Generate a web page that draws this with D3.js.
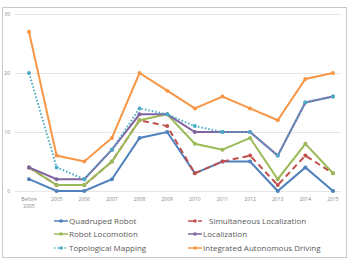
<!DOCTYPE html>
<html>
<head>
<meta charset="utf-8">
<script src="https://cdn.jsdelivr.net/npm/d3@7"></script>
<style>
  body { margin: 0; background: #fff; }
  text { font-family: "Open Sans", "Liberation Sans", sans-serif; }
</style>
</head>
<body>
<script>
const years = ['Before 2005', '2005', '2006', '2007', '2008', '2009', '2010', '2011', '2012', '2013', '2014', '2015']
const quadruped = [2, 0, 0, 2, 9, 10, 3, 5, 5, 0, 4, 0]
const slam = [4, 1, 1, 5, 12, 11, 3, 5, 6, 1, 6, 3]
const locomotion = [4, 1, 1, 5, 12, 13, 8, 7, 9, 2, 8, 3]
const localization = [4, 2, 2, 7, 13, 13, 10, 10, 10, 6, 15, 16]
const topological = [20, 4, 2, 7, 14, 13, 11, 10, 10, 6, 15, 16]
const autonomous = [27, 6, 5, 9, 20, 17, 14, 16, 14, 12, 19, 20]
const yTicks = [0, 10, 20, 30]

const series = [
  { name: 'Quadruped Robot', values: quadruped, color: '#4f81bd', dash: null },
  { name: 'Simultaneous Localization', values: slam, color: '#c0504d', dash: '6,4' },
  { name: 'Robot Locomotion', values: locomotion, color: '#9bbb59', dash: null },
  { name: 'Localization', values: localization, color: '#8064a2', dash: null },
  { name: 'Topological Mapping', values: topological, color: '#4bacc6', dash: '1.5,2' },
  { name: 'Integrated Autonomous Driving', values: autonomous, color: '#f79646', dash: null }
]

const W = 349, H = 258
const svg = d3.select('body').append('svg')
  .attr('width', W)
  .attr('height', H)

// chart frame
svg.append('rect')
  .attr('x', 2.5).attr('y', 7.5)
  .attr('width', 344).attr('height', 250)
  .style('fill', '#fff')
  .style('stroke', '#c8c8c8')

const x = d3.scalePoint()
  .domain(years)
  .range([29, 333])
const y = d3.scaleLinear()
  .domain([0, 30])
  .range([191, 14])

// gridlines + y labels
const grid = svg.append('g')
grid.selectAll('line')
  .data(yTicks)
  .enter().append('line')
  .attr('x1', 15).attr('x2', 341)
  .attr('y1', d => Math.round(y(d)) + 0.5)
  .attr('y2', d => Math.round(y(d)) + 0.5)
  .style('stroke', '#e6e6e6')
grid.selectAll('text')
  .data(yTicks)
  .enter().append('text')
  .attr('x', 10).attr('y', d => y(d) + 2)
  .attr('text-anchor', 'end')
  .style('font-size', '5px')
  .style('fill', '#888')
  .text(d => d)

// x labels
const xl = svg.append('g')
xl.selectAll('text')
  .data(years)
  .enter().append('text')
  .attr('x', d => x(d))
  .attr('y', 201)
  .attr('text-anchor', 'middle')
  .style('font-size', '5px')
  .style('fill', '#888')
  .each(function (d) {
    const parts = d === 'Before 2005' ? ['Before', '2005'] : [d]
    d3.select(this).selectAll('tspan')
      .data(parts)
      .enter().append('tspan')
      .attr('x', x(d))
      .attr('dy', (p, i) => i ? 7 : 0)
      .text(p => p)
  })

const line = d3.line()
  .x((d, i) => x(years[i]))
  .y(d => y(d))

series.forEach(s => {
  svg.append('path')
    .datum(s.values)
    .attr('d', line)
    .style('fill', 'none')
    .style('stroke', s.color)
    .style('stroke-width', 2)
    .style('stroke-dasharray', s.dash)
  svg.append('g').selectAll('circle')
    .data(s.values)
    .enter().append('circle')
    .attr('cx', (d, i) => x(years[i]))
    .attr('cy', d => y(d))
    .attr('r', 2)
    .style('fill', s.color)
})

// legend
const legendPos = [
  [54, 221], [188, 221],
  [54, 234], [188, 234],
  [54, 248], [188, 248]
]
const legend = svg.append('g')
  .selectAll('g')
  .data(series)
  .enter().append('g')
  .attr('transform', (d, i) => `translate(${legendPos[i][0]}, ${legendPos[i][1]})`)
legend.append('line')
  .attr('x1', 0).attr('x2', 14)
  .style('stroke', d => d.color)
  .style('stroke-width', 1.5)
  .style('stroke-dasharray', d => d.dash)
legend.append('circle')
  .attr('cx', 7).attr('r', 1.8)
  .style('fill', d => d.color)
legend.append('text')
  .attr('x', (d, i) => i === 1 ? 21 : 15)
  .attr('y', 2.8)
  .style('font-size', '8px')
  .style('fill', '#595959')
  .text(d => d.name)
</script>
</body>
</html>
